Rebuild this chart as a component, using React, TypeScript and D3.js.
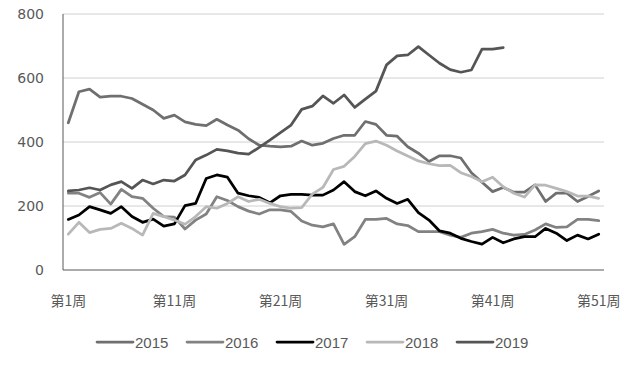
import React from "react";
import * as d3 from "d3";

const weeks: number[] = Array.from({ length: 51 }, (_, i) => i + 1);
const tickWeeks: number[] = [1, 11, 21, 31, 41, 51];
const yTicks: number[] = [0, 200, 400, 600, 800];

const s2015: number[] = [460, 557, 565, 540, 543, 543, 536, 518, 500, 474, 484, 463, 455, 451, 471, 453, 437, 410, 390, 387, 385, 387, 403, 390, 396, 411, 421, 421, 464, 455, 421, 418, 385, 365, 339, 357, 357, 350, 304, 274, 245, 258, 243, 243, 266, 214, 240, 240, 214, 230, 247];
const s2016: number[] = [240, 240, 227, 242, 206, 252, 229, 224, 193, 167, 165, 128, 156, 175, 229, 217, 198, 184, 175, 188, 188, 183, 153, 140, 135, 144, 80, 104, 158, 158, 161, 144, 139, 120, 120, 120, 109, 102, 115, 120, 127, 115, 109, 111, 125, 144, 133, 135, 158, 158, 154];
const s2017: number[] = [158, 172, 198, 188, 177, 198, 167, 149, 159, 137, 144, 201, 208, 286, 297, 290, 240, 232, 227, 210, 232, 236, 236, 234, 234, 250, 276, 245, 232, 247, 224, 208, 221, 179, 156, 122, 115, 99, 89, 81, 102, 85, 97, 104, 104, 130, 115, 92, 109, 97, 112];
const s2018: number[] = [112, 149, 117, 127, 130, 146, 130, 109, 177, 167, 156, 143, 167, 198, 193, 208, 229, 214, 221, 208, 198, 193, 195, 237, 258, 314, 324, 355, 395, 403, 390, 372, 356, 341, 332, 326, 327, 304, 292, 276, 290, 260, 240, 228, 266, 265, 255, 245, 231, 231, 224];
const s2019: number[] = [247, 250, 257, 250, 266, 276, 255, 281, 269, 281, 278, 297, 344, 359, 377, 372, 365, 362, 383, 406, 429, 453, 502, 512, 544, 521, 547, 508, 534, 559, 641, 669, 672, 698, 672, 646, 626, 618, 625, 690, 690, 695];

const seriesNames: string[] = ["2015", "2016", "2017", "2018", "2019"];
const seriesData: number[][] = [s2015, s2016, s2017, s2018, s2019];
const seriesColors: string[] = ["#6f6f6f", "#828282", "#000000", "#b8b8b8", "#555555"];

export default function App() {
  const W = 637, H = 365;
  const left = 63, right = 604, top = 14, bottom = 270;
  const x = d3.scaleBand<number>().domain(weeks).range([left, right]).padding(0);
  const cx = (w: number) => (x(w) as number) + x.bandwidth() / 2;
  const y = d3.scaleLinear().domain([0, 800]).range([bottom, top]);
  const line = d3.line<number>().x((_, i) => cx(weeks[i])).y((d) => y(d));
  const font = "'DejaVu Sans', sans-serif";
  const cjk = "'Noto Sans CJK SC', sans-serif";
  return (
    <svg width={W} height={H} style={{ position: "absolute", left: 0, top: 0, background: "#fff" }}>
      <rect width={W} height={H} fill="#fff" />
      {yTicks.filter((t) => t > 0).map((t) => (
        <line key={t} x1={left} x2={right} y1={y(t)} y2={y(t)} stroke="#d0d0d0" strokeWidth={1} />
      ))}
      <line x1={left} x2={left} y1={top} y2={bottom} stroke="#595959" strokeWidth={1} />
      <line x1={left} x2={right} y1={bottom} y2={bottom} stroke="#595959" strokeWidth={1} />
      {yTicks.map((t) => (
        <text key={t} x={44} y={y(t)} textAnchor="end" dominantBaseline="central" fontFamily={font} fontSize={14} fill="#595959">
          {t}
        </text>
      ))}
      {tickWeeks.map((w) => (
        <text key={w} x={cx(w)} y={300} textAnchor="middle" dominantBaseline="central" fontFamily={cjk} fontSize={14} fill="#595959">
          {`第${w}周`}
        </text>
      ))}
      {seriesData.map((d, i) => (
        <path key={seriesNames[i]} d={line(d) || ""} fill="none" stroke={seriesColors[i]} strokeWidth={2.75} strokeLinejoin="round" strokeLinecap="round" />
      ))}
      {seriesNames.map((n, i) => {
        const sx = 97 + i * 90;
        return (
          <g key={n}>
            <line x1={sx} x2={sx + 36} y1={342} y2={342} stroke={seriesColors[i]} strokeWidth={2.75} strokeLinecap="round" />
            <text x={sx + 38} y={342} dominantBaseline="central" fontFamily="'Liberation Sans', sans-serif" fontSize={15} fill="#595959">
              {n}
            </text>
          </g>
        );
      })}
    </svg>
  );
}
